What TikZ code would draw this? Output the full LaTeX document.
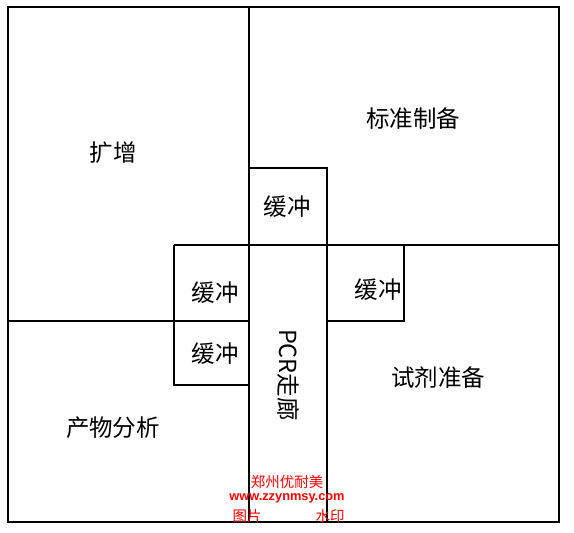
\documentclass[tikz,border=0pt]{standalone}
\usepackage{fontspec}
\setmainfont{Noto Sans CJK SC}
\newfontfamily\cjk{Noto Sans CJK SC}
\newfontfamily\wmlat{Liberation Sans}
\begin{document}
\begin{tikzpicture}[x=1pt,y=-1pt,
  wall/.style={line width=1.1pt,black},
  lbl/.style={font=\cjk\fontsize{23.5}{26}\selectfont,inner sep=0pt},
  wm/.style={text=red,inner sep=0pt}]
\useasboundingbox (0,0) rectangle (574,533);
% walls
\draw[wall] (8,7) rectangle (559,522);
\draw[wall] (249,7) -- (249,522);
\draw[wall] (249,168) -- (327,168) -- (327,522);
\draw[wall] (174,245) -- (559,245);
\draw[wall] (8,321) -- (249,321);
\draw[wall] (174,245) -- (174,385) -- (249,385);
\draw[wall] (327,321) -- (404,321) -- (404,245);
% labels
\node[lbl] (kz) at (113,153) {扩增};
\node[lbl] (bz) at (413,119) {标准制备};
\node[lbl] (hc1) at (287,207) {缓冲};
\node[lbl] (hc2) at (215,293) {缓冲};
\node[lbl] (hc3) at (378,290) {缓冲};
\node[lbl] (hc4) at (215,354) {缓冲};
\node[lbl] (sj) at (438,378) {试剂准备};
\node[lbl] (cw) at (113,428) {产物分析};
\node[lbl,rotate=-90] (pcr) at (288,375) {PCR走廊};
% watermark
\node[wm,font=\cjk\fontsize{14.5}{16}\selectfont] (w1) at (287,482) {郑州优耐美};
\node[wm,font=\wmlat\bfseries\fontsize{12.8}{14}\selectfont] (w2) at (287,498) {www.zzynmsy.com};
\node[wm,font=\cjk\fontsize{14.5}{16}\selectfont] (w3) at (247,516) {图片};
\node[wm,font=\cjk\fontsize{14.5}{16}\selectfont] (w4) at (330,516) {水印};
\end{tikzpicture}
\end{document}
